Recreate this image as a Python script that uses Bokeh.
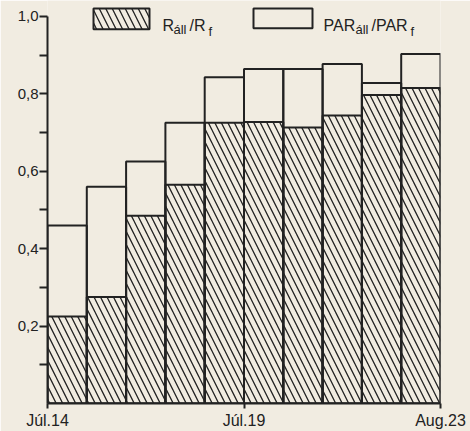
from bokeh.plotting import figure
from bokeh.models import Range1d, FixedTicker, ColumnDataSource
from bokeh.core.properties import value
from bokeh.embed import file_html
from bokeh.resources import INLINE

# Ten consecutive measuring periods
period_start = [0, 1, 2, 3, 4, 5, 6, 7, 8, 9]
period_end = [1, 2, 3, 4, 5, 6, 7, 8, 9, 10]
# R_áll / R_f (hatched) and PAR_áll / PAR_f (open) ratios
r_ratio = [0.225, 0.275, 0.485, 0.565, 0.725, 0.727, 0.713, 0.744, 0.797, 0.815]
par_ratio = [0.46, 0.56, 0.625, 0.725, 0.843, 0.864, 0.864, 0.877, 0.828, 0.903]

x_ticks = [0, 5, 10]
x_tick_labels = ["Júl.14", "Júl.19", "Aug.23"]
y_ticks = [0.2, 0.4, 0.6, 0.8, 1.0]
y_tick_labels = ["0,2", "0,4", "0,6", "0,8", "1,0"]
y_minor_ticks = [0.1, 0.3, 0.5, 0.7, 0.9]

PAPER = "#f1ece1"
INK = "#222222"
FONT = "Liberation Sans"

W, H = 470, 431
LEFT, RIGHT, TOP, BOTTOM = 47, 30, 0, 25
frame_w = W - LEFT - RIGHT
frame_h = H - TOP - BOTTOM
x_end = 10.0
px_per_unit_y = 390.0
y_end = frame_h / px_per_unit_y

p = figure(width=W, height=H, output_backend="svg", toolbar_location=None,
           x_range=Range1d(0, x_end), y_range=Range1d(0, y_end),
           min_border_left=LEFT, min_border_right=RIGHT,
           min_border_top=TOP, min_border_bottom=BOTTOM)
p.background_fill_color = PAPER
p.border_fill_color = PAPER
p.outline_line_color = None
p.xgrid.visible = False
p.ygrid.visible = False

src = ColumnDataSource(dict(left=period_start, right=period_end,
                            r=r_ratio, par=par_ratio))

HATCH = dict(hatch_pattern="\\", hatch_color=INK, hatch_scale=13, hatch_weight=1.3)

# open PAR bars, then hatched R bars on top
p.quad(left="left", right="right", bottom=0, top="par", source=src,
       fill_color=None, line_color=INK, line_width=2)
p.quad(left="left", right="right", bottom=0, top="r", source=src,
       fill_color=None, line_color=INK, line_width=2, **HATCH)

# axes
for ax in (p.xaxis[0], p.yaxis[0]):
    ax.axis_line_color = INK
    ax.axis_line_width = 2
    ax.major_tick_line_color = INK
    ax.major_tick_line_width = 2
    ax.minor_tick_line_color = INK
    ax.minor_tick_line_width = 2
    ax.major_tick_in = 0
    ax.minor_tick_in = 0
    ax.major_label_text_font = FONT
    ax.major_label_text_color = INK

xa = p.xaxis[0]
xa.bounds = (0, x_end)
xa.ticker = FixedTicker(ticks=x_ticks, minor_ticks=[])
xa.major_label_overrides = {t: s for t, s in zip(x_ticks, x_tick_labels)}
xa.major_tick_out = 5
xa.major_label_standoff = 3
xa.major_label_text_font_size = "16px"

ya = p.yaxis[0]
ya.bounds = (0, 1.0)
ya.ticker = FixedTicker(ticks=y_ticks, minor_ticks=y_minor_ticks)
ya.major_label_overrides = {t: s for t, s in zip(y_ticks, y_tick_labels)}
ya.major_tick_out = 8
ya.minor_tick_out = 8
ya.major_label_standoff = 1
ya.major_label_text_font_size = "15px"


# legend, positioned in pixels from the top-left corner of the plot area
def lx(px):
    return (px - LEFT) * x_end / frame_w


def ly(py):
    return (frame_h - (py - TOP)) / px_per_unit_y


p.quad(left=[lx(93)], right=[lx(149)], bottom=[ly(29)], top=[ly(8)],
       fill_color=None, line_color=INK, line_width=2, **HATCH)
p.quad(left=[lx(253)], right=[lx(312)], bottom=[ly(28)], top=[ly(8)],
       fill_color=None, line_color=INK, line_width=2)

legend_parts = [
    # text, left px, baseline px, size
    ("R", 162, 25, "16px"),
    ("áll", 173, 29, "13px"),
    ("/R", 189, 25, "16px"),
    ("f", 208, 31, "13px"),
    ("PAR", 323, 25, "16px"),
    ("áll", 355, 29, "13px"),
    ("/PAR", 371, 25, "16px"),
    ("f", 410, 31, "13px"),
]
for txt, x0, y0, size in legend_parts:
    p.text(x=[lx(x0)], y=[ly(y0)], text=[txt], text_font=value(FONT),
           text_font_size=size, text_color=INK,
           text_align="left", text_baseline="alphabetic")

open("out.html", "w").write(file_html(p, INLINE))
